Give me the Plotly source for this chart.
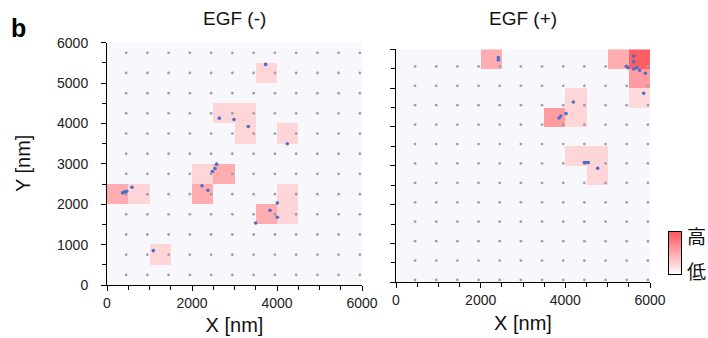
import plotly.graph_objects as go

# ---------------- data ----------------
grid_size = 500
n_cells = 12

# highlighted 500 nm cells: lower-left corner (nm) and intensity level
left_cell_x0 = [3500, 2500, 3000, 3000, 4000, 2000, 2500, 2000, 0, 500, 4000, 4000, 3500, 1000]
left_cell_y0 = [5000, 4000, 4000, 3500, 3500, 2500, 2500, 2000, 2000, 2000, 2000, 1500, 1500, 500]
left_cell_val = [1, 1, 1, 1, 1, 1, 2, 2, 2, 1, 1, 1, 2, 1]

right_cell_x0 = [2000, 5000, 5500, 5500, 5500, 4000, 4000, 3500, 4000, 4500, 4500]
right_cell_y0 = [5500, 5500, 5500, 5000, 4500, 4500, 4000, 4000, 3000, 3000, 2500]
right_cell_val = [2, 2, 3.9, 2.4, 0.9, 1, 1, 2.4, 1, 1, 1]

# detected molecules (nm)
left_pts_x = [3733, 2643, 2988, 3325, 4243, 2580, 2541, 2478, 2235, 2376, 369, 416, 463, 588, 4008, 3835, 4008, 3498, 1090]
left_pts_y = [5463, 4132, 4099, 3926, 3496, 2992, 2884, 2810, 2455, 2347, 2281, 2306, 2322, 2421, 2033, 1851, 1678, 1537, 851]

right_pts_x = [2417, 2417, 5614, 5614, 5441, 5480, 5614, 5685, 5756, 5890, 5850, 4189, 4016, 3890, 3850, 4449, 4496, 4543, 4764]
right_pts_y = [5785, 5725, 5828, 5682, 5562, 5528, 5494, 5528, 5459, 5382, 4867, 4644, 4343, 4283, 4232, 3082, 3082, 3082, 2936]

# lattice of reference spots (nm)
lattice_x = [450, 950, 1450, 1950, 2450, 2950, 3450, 3950, 4450, 4950, 5450, 5950]
left_lattice_y = [250, 750, 1250, 1750, 2250, 2750, 3250, 3750, 4250, 4750, 5250, 5750]
right_lattice_y = [60, 560, 1060, 1560, 2060, 2560, 3060, 3560, 4060, 4560, 5060, 5560]

x_ticks = [0, 2000, 4000, 6000]
y_ticks = [0, 1000, 2000, 3000, 4000, 5000, 6000]
panel_titles = ["EGF (-)", "EGF (+)"]
legend_levels = [0, 1, 2, 3, 4]

# ---------------- helpers ----------------
centers = [grid_size * i + grid_size / 2 for i in range(n_cells)]


def build_grid(xs, ys, vals):
    z = [[None] * n_cells for _ in range(n_cells)]
    for x0, y0, v in zip(xs, ys, vals):
        z[int(y0 // grid_size)][int(x0 // grid_size)] = v
    return z


W, H = 708, 338
FONT = "Liberation Sans, Arial, sans-serif"
BG = "#f8f8fc"
RED_SCALE = [[0, "#ffffff"], [1, "#ff5a60"]]


def fx(p):
    return p / W


def fy(p):
    return 1 - p / H


fig = go.Figure()

panels = [
    ("x", "y", left_cell_x0, left_cell_y0, left_cell_val, left_pts_x, left_pts_y, left_lattice_y),
    ("x2", "y2", right_cell_x0, right_cell_y0, right_cell_val, right_pts_x, right_pts_y, right_lattice_y),
]

for xa, ya, cx, cy, cv, px, py, ly in panels:
    fig.add_trace(go.Heatmap(
        x=centers, y=centers, z=build_grid(cx, cy, cv),
        colorscale=RED_SCALE, zmin=0, zmax=4, showscale=False,
        hoverongaps=False, xaxis=xa, yaxis=ya,
    ))
    lx = [x for yy in ly for x in lattice_x]
    lyy = [yy for yy in ly for x in lattice_x]
    fig.add_trace(go.Scatter(
        x=lx, y=lyy, mode="markers",
        marker=dict(size=2.8, color="#a0a0a6"),
        showlegend=False, xaxis=xa, yaxis=ya, hoverinfo="skip",
    ))
    fig.add_trace(go.Scatter(
        x=px, y=py, mode="markers",
        marker=dict(size=3.6, color="#4a70cc"),
        showlegend=False, xaxis=xa, yaxis=ya,
    ))

# intensity legend bar
fig.add_trace(go.Heatmap(
    x=[0, 1], y=legend_levels, z=[[v, v] for v in legend_levels],
    colorscale=RED_SCALE, zmin=0, zmax=4, showscale=False, zsmooth="best",
    xaxis="x3", yaxis="y3", hoverinfo="skip",
))

axis_common = dict(
    range=[0, 6000], showline=True, linecolor="black", linewidth=1,
    ticks="outside", ticklen=5, tickcolor="black", tickwidth=1,
    showgrid=False, zeroline=False, automargin=False,
    tickfont=dict(family=FONT, size=14, color="#222"),
    minor=dict(dtick=500, ticks="outside", ticklen=4, tickcolor="black", showgrid=False),
)
title_font = dict(family=FONT, size=20, color="#111")

fig.update_layout(
    width=W, height=H,
    margin=dict(l=0, r=0, t=0, b=0),
    paper_bgcolor="white",
    plot_bgcolor=BG,
    showlegend=False,
    xaxis=dict(axis_common, domain=[fx(107), fx(362)], anchor="y",
               tickvals=x_ticks, ticktext=[str(v) for v in x_ticks],
               title=dict(text="X [nm]", font=title_font, standoff=8)),
    yaxis=dict(axis_common, domain=[fy(285), fy(42.7)], anchor="x",
               tickvals=y_ticks, ticktext=[str(v) for v in y_ticks], ticklabelstandoff=10),
    xaxis2=dict(axis_common, domain=[fx(396), fx(650)], anchor="y2",
                tickvals=x_ticks, ticktext=[str(v) for v in x_ticks],
                title=dict(text="X [nm]", font=title_font, standoff=8)),
    yaxis2=dict(axis_common, domain=[fy(282.3), fy(49.3)], anchor="x2",
                tickvals=y_ticks, showticklabels=False),
    xaxis3=dict(domain=[fx(669), fx(681)], anchor="y3", range=[0, 1], showline=True, mirror=True,
                linecolor="black", linewidth=1, showticklabels=False, ticks="", showgrid=False,
                zeroline=False, fixedrange=True, automargin=False),
    yaxis3=dict(domain=[fy(274), fy(232)], anchor="x3", range=[0, 4], showline=True, mirror=True,
                linecolor="black", linewidth=1, showticklabels=False, ticks="", showgrid=False,
                zeroline=False, fixedrange=True, automargin=False),
)

annotations = [
    dict(text="<b>b</b>", x=fx(9), y=fy(28), xanchor="left", yanchor="middle",
         font=dict(family=FONT, size=25, color="black")),
    dict(text=panel_titles[0], x=fx(234), y=fy(19), xanchor="center", yanchor="middle",
         font=dict(family=FONT, size=19, color="#111")),
    dict(text=panel_titles[1], x=fx(523), y=fy(19), xanchor="center", yanchor="middle",
         font=dict(family=FONT, size=19, color="#111")),
    dict(text="Y [nm]", x=fx(23), y=fy(164), xanchor="center", yanchor="middle", textangle=-90,
         font=title_font),
    dict(text="高", x=fx(696), y=fy(235), xanchor="center", yanchor="middle",
         font=dict(family="Noto Sans CJK JP", size=19, color="#111")),
    dict(text="低", x=fx(696), y=fy(270), xanchor="center", yanchor="middle",
         font=dict(family="Noto Sans CJK JP", size=19, color="#111")),
]
for a in annotations:
    a.update(xref="paper", yref="paper", showarrow=False)
fig.update_layout(annotations=annotations)

fig.write_html("out.html", config={"displayModeBar": False},
               post_script="document.body.style.margin='0';")
